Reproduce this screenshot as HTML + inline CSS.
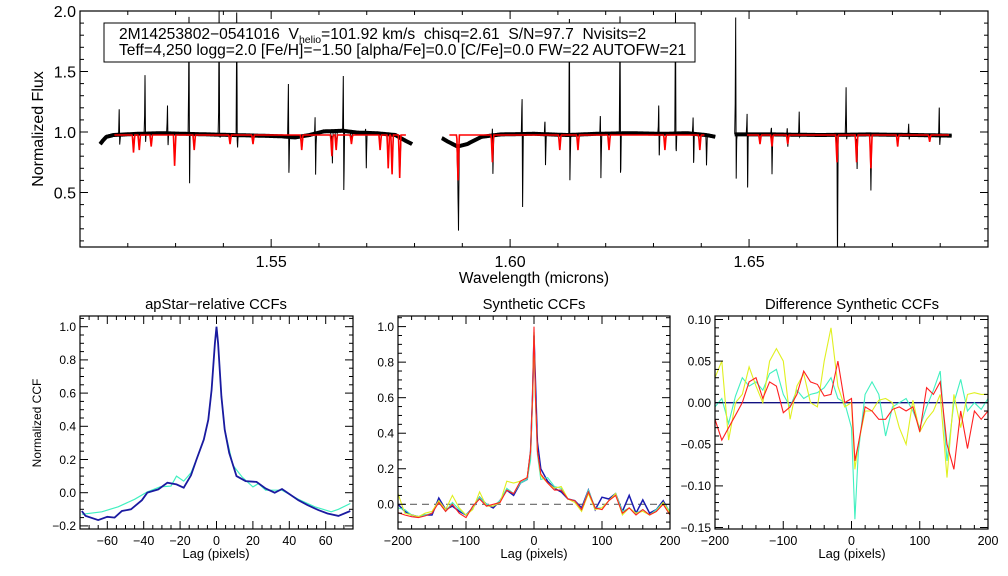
<!DOCTYPE html>
<html><head><meta charset="utf-8"><style>
body{margin:0;background:#fff}
svg{display:block;font-family:"Liberation Sans",sans-serif}
</style></head><body>
<svg id="c" width="1008" height="576" viewBox="0 0 1008 576">
<defs>
<clipPath id="cpTop"><rect x="80" y="11" width="908" height="236"/></clipPath>
<clipPath id="cpL"><rect x="80" y="316" width="273" height="213"/></clipPath>
<clipPath id="cpM"><rect x="398" y="316" width="272" height="213"/></clipPath>
<clipPath id="cpR"><rect x="715" y="316" width="273" height="213"/></clipPath>
</defs>
</svg>
<script>
// ---------- top spectrum data ----------
const chip1Base = [[1.5142,0.90],[1.5148,0.93],[1.5155,0.96],[1.517,0.975],[1.522,0.985],[1.527,0.99],[1.532,0.985],[1.537,0.98],[1.542,0.975],[1.547,0.97],[1.552,0.965],[1.555,0.955],[1.558,0.975],[1.561,1.005],[1.565,1.01],[1.568,0.995],[1.572,0.99],[1.576,0.975],[1.578,0.93],[1.5795,0.90]];
const chip2Base = [[1.5857,0.95],[1.587,0.92],[1.589,0.88],[1.591,0.90],[1.594,0.96],[1.598,0.98],[1.605,0.985],[1.612,0.975],[1.618,0.985],[1.625,0.99],[1.632,0.985],[1.637,0.99],[1.641,0.975],[1.643,0.96]];
const chip3Base = [[1.6470,0.98],[1.655,0.98],[1.665,0.975],[1.675,0.98],[1.685,0.975],[1.6925,0.97]];
const modelRanges = [[1.5172,1.5782],[1.5873,1.6407],[1.6496,1.6919]];
const modelContinuum = 0.975;
const modelLines = [[1.5212,0.83],[1.5224,0.85],[1.5249,0.88],[1.5298,0.72],[1.5339,0.85],[1.5414,0.90],[1.5462,0.90],[1.5564,0.85],[1.5627,0.80],[1.5636,0.85],[1.5668,0.90],[1.5728,0.85],[1.5745,0.70],[1.5753,0.65],[1.5769,0.62],
 [1.5891,0.60],[1.5963,0.75],[1.6104,0.85],[1.6142,0.85],[1.6207,0.85],[1.6324,0.85],[1.6397,0.85],
 [1.6523,0.90],[1.6548,0.88],[1.6581,0.90],[1.6684,0.75],[1.6725,0.75],[1.6755,0.70],[1.6811,0.88],[1.6878,0.92]];
const spikeWave = [1.5182,1.5236,1.5283,1.5328,1.5391,1.5428,1.5536,1.5592,1.5627,1.5651,1.5698,1.5891,1.5963,1.6025,1.6073,1.6124,1.6189,1.6230,1.6311,1.6346,1.6383,1.6410,1.6472,1.6496,1.6547,1.6580,1.6605,1.6684,1.6703,1.6725,1.6754,1.6834,1.6898];
const spikeUp =   [1.23,1.50,1.25,2.05,2.05,2.05,1.50,1.18,1.15,1.55,1.05,1.00,1.30,1.40,1.15,2.05,1.20,2.05,1.27,2.05,1.18,1.00,2.05,1.25,1.15,1.10,1.20,1.25,1.40,1.20,1.00,1.10,1.25];
const spikeDown = [0.88,0.90,0.88,0.50,0.85,0.78,0.62,0.63,0.80,0.42,0.70,0.50,0.75,0.33,0.72,0.45,0.60,0.50,0.78,0.70,0.73,0.75,0.50,0.52,0.73,0.95,0.95,0.05,0.95,0.80,0.78,0.95,0.88];

// ---------- CCF data ----------
const lagA1 = [-74,-72,-65,-60,-56,-52,-47,-41,-38,-32,-27,-22,-18,-14,-11,-7,-4.5,-2.7,-0.9,0,0.9,2.7,4.5,7,11,16,22,27,32,36,40,45,50,56,61,67,73.5];
const ccfApBlue = [-0.11,-0.14,-0.165,-0.145,-0.15,-0.11,-0.10,-0.045,0.0,0.02,0.06,0.05,0.03,0.105,0.20,0.32,0.44,0.62,0.90,1.0,0.90,0.58,0.38,0.24,0.10,0.07,0.065,0.025,0.0,0.022,-0.008,-0.045,-0.075,-0.105,-0.125,-0.14,-0.11];
const lagA2 = [-74,-63,-54,-45,-38,-31,-25,-22,-18,-14,-11,-7,-4.5,-2.7,-0.9,0,0.9,2.7,4.5,9,14,20,23,27,36,45,54,63,67,73.5];
const ccfApAqua = [-0.13,-0.115,-0.085,-0.04,0.005,0.035,0.04,0.10,0.07,0.12,0.20,0.32,0.44,0.62,0.90,1.0,0.90,0.58,0.38,0.165,0.095,0.035,0.055,0.015,0.015,-0.04,-0.085,-0.115,-0.10,-0.065];

const lagS = [-200,-190,-180,-170,-160,-150,-140,-130,-120,-110,-100,-90,-80,-70,-60,-50,-40,-30,-20,-10,-5,-2,0,2,5,10,20,30,40,50,60,70,80,90,100,110,120,130,140,150,160,170,180,190,200];
const synRed = [-0.047,-0.06,-0.07,-0.075,-0.065,-0.05,0.01,-0.04,0.0,-0.05,-0.075,-0.01,0.03,-0.01,0.0,0.01,0.08,0.06,0.13,0.15,0.3,0.62,1.0,0.62,0.3,0.17,0.12,0.08,0.08,0.03,0.02,-0.03,0.07,-0.02,-0.03,0.02,0.05,-0.05,-0.02,-0.06,-0.03,-0.06,-0.04,0.0,-0.06];
const synBlue = [0.0,-0.04,-0.06,-0.07,-0.06,-0.06,0.035,-0.03,-0.01,-0.04,-0.06,-0.02,0.04,0.0,-0.02,0.02,0.08,0.05,0.12,0.14,0.3,0.62,0.95,0.7,0.35,0.2,0.13,0.09,0.07,0.03,0.02,-0.02,0.08,-0.03,0.04,0.03,0.06,-0.04,0.05,-0.05,0.025,-0.05,-0.03,0.02,-0.05];
const synYellow = [0.06,-0.05,-0.06,-0.07,-0.05,-0.04,0.02,-0.03,0.05,-0.02,-0.06,-0.03,0.07,-0.01,-0.01,0.01,0.13,0.12,0.13,0.15,0.3,0.6,0.97,0.6,0.3,0.16,0.12,0.09,0.1,0.03,0.01,-0.04,0.06,-0.03,-0.02,0.02,0.06,-0.06,-0.02,-0.05,-0.04,-0.06,-0.04,0.01,-0.05];
const synAqua = [-0.02,-0.03,-0.06,-0.07,-0.06,-0.05,0.02,-0.04,0.01,-0.03,-0.06,-0.02,0.04,0.0,-0.01,0.02,0.09,0.06,0.12,0.14,0.25,0.6,0.97,0.6,0.28,0.14,0.15,0.1,0.09,0.03,0.02,-0.03,0.08,-0.02,-0.02,0.02,0.06,-0.04,-0.02,-0.05,-0.03,-0.06,-0.03,0.01,-0.04];

const lagD = [-200,-190,-180,-170,-160,-150,-140,-130,-120,-110,-100,-90,-80,-70,-60,-50,-40,-30,-20,-10,0,5,10,20,30,40,50,60,70,80,90,100,110,120,130,140,150,160,170,180,190,200];
const diffAqua = [-0.005,0.005,-0.025,0.008,0.03,0.02,0.025,0.015,0.035,0.04,0.01,-0.005,0.015,0.005,0.01,0.012,0.018,0.03,0.005,0.0,-0.03,-0.14,-0.06,0.01,0.025,0.01,-0.04,-0.005,0.0,0.005,-0.01,-0.03,-0.005,0.015,0.038,-0.07,0.0,0.028,-0.01,0.0,-0.008,0.005];
const diffYellow = [0.03,0.05,-0.045,0.0,0.01,0.043,0.02,0.0,0.05,0.065,0.05,-0.02,0.02,0.035,0.0,-0.005,0.05,0.09,0.02,-0.005,0.0,-0.08,-0.05,-0.01,-0.01,0.003,0.005,0.0,-0.03,-0.05,0.003,-0.035,-0.02,-0.01,0.01,-0.09,0.01,-0.03,0.01,0.012,0.01,0.01];
const diffRed = [-0.02,-0.045,-0.03,-0.015,0.0,0.025,0.03,0.005,0.025,0.02,-0.012,-0.005,0.01,0.038,0.025,0.022,0.008,0.01,0.05,0.0,0.005,-0.07,-0.05,-0.005,-0.01,-0.02,-0.02,-0.008,-0.005,-0.01,-0.005,-0.035,0.018,0.01,0.025,-0.05,-0.08,-0.01,-0.055,-0.01,-0.02,-0.01];

// ---------- helpers ----------
const svg = document.getElementById('c');
const NS = 'http://www.w3.org/2000/svg';
function mk(tag, attrs, parent){
  const e = document.createElementNS(NS, tag);
  for (const k in attrs) e.setAttribute(k, attrs[k]);
  (parent||svg).appendChild(e);
  return e;
}
function txt(x,y,s,size,anchor,rot){
  const t = mk('text',{x:x,y:y,'font-size':size,'text-anchor':anchor||'middle',fill:'#000'});
  if (rot) t.setAttribute('transform','rotate(-90 '+x+' '+y+')');
  t.textContent = s;
  return t;
}
function interp(arr, l){
  if (l <= arr[0][0]) return arr[0][1];
  for (let i=1;i<arr.length;i++){
    if (l <= arr[i][0]){ const a=arr[i-1], b=arr[i]; return a[1]+(b[1]-a[1])*(l-a[0])/(b[0]-a[0]); }
  }
  return arr[arr.length-1][1];
}
function frame(x0,y0,x1,y1,name){
  const r = mk('rect',{x:x0,y:y0,width:x1-x0,height:y1-y0,fill:'none',stroke:'#000','stroke-width':1.2});
  
  
}
function ticksX(sx,y0,y1,lo,hi,major,minor,fmt,fs,labOff,name,labelLo,labelHi){
  const g = mk('g',{});
  
  
  const n = Math.round((hi-lo)/minor);
  for (let i=0;i<=n;i++){
    const v = lo + i*minor; const x = sx(v);
    const isMaj = Math.abs(v/major - Math.round(v/major)) < 1e-6;
    const L = isMaj ? 8 : 4;
    mk('line',{x1:x,y1:y1,x2:x,y2:y1-L,stroke:'#000','stroke-width':1},g);
    mk('line',{x1:x,y1:y0,x2:x,y2:y0+L,stroke:'#000','stroke-width':1},g);
    if (isMaj && fmt && v>=labelLo-1e-9 && v<=labelHi+1e-9){ const t = txt(x,y1+labOff,fmt(v),fs); g.appendChild(t); }
  }
}
function ticksY(sy,x0,x1,lo,hi,major,minor,fmt,fs,name){
  const g = mk('g',{});
  
  
  const n = Math.round((hi-lo)/minor);
  for (let i=0;i<=n;i++){
    const v = lo + i*minor; const y = sy(v);
    const isMaj = Math.abs(v/major - Math.round(v/major)) < 1e-6;
    const L = isMaj ? 8 : 4;
    mk('line',{x1:x0,y1:y,x2:x0+L,y2:y,stroke:'#000','stroke-width':1},g);
    mk('line',{x1:x1,y1:y,x2:x1-L,y2:y,stroke:'#000','stroke-width':1},g);
    if (isMaj && fmt){ const t = txt(x0-4,y+fs*0.36,fmt(v),fs,'end'); g.appendChild(t); }
  }
}
function minus(s){ return s.replace('-','\u2212'); }
function line(xs,ys,sx,sy,color,w,clip,name){
  let d='';
  for (let i=0;i<xs.length;i++) d += (i?'L':'M')+sx(xs[i]).toFixed(1)+','+sy(ys[i]).toFixed(1);
  const p = mk('path',{d:d,fill:'none',stroke:color,'stroke-width':w,'clip-path':'url(#'+clip+')','stroke-linejoin':'miter'});
  
  
}

// ---------- top panel ----------
const tx = l => 80 + (l-1.51)*908/0.19;
const ty = v => 11 + (2.0-v)*121;
const pxW = 0.19/908;
function feat(l, list, hw){
  let s=0;
  for (const f of list){ const d=Math.abs(l-f[0])/(hw*pxW); if (d<1) s += (f[1]-f[2])*(1-d); }
  return s;
}
function buildChip(lo, hi, lines){
  const pts = [];
  for (let l=lo; l<=hi; l+=pxW*0.5) pts.push(l);
  for (const f of lines) if (f[0]>lo && f[0]<hi) pts.push(f[0]);
  pts.sort((a,b)=>a-b);
  return pts;
}
const blackFeats = [];
for (const m of modelLines) blackFeats.push([m[0], m[1], modelContinuum]);
const spikeFeats = [];
for (let i=0;i<spikeWave.length;i++){
  spikeFeats.push([spikeWave[i], spikeUp[i], 1.0]);
  spikeFeats.push([spikeWave[i]+0.5*pxW, spikeDown[i], 1.0]);
}
const chips = [chip1Base, chip2Base, chip3Base];
chips.forEach((base,ci)=>{
  const lo = base[0][0], hi = base[base.length-1][0];
  const pts = buildChip(lo, hi, blackFeats.concat(spikeFeats));
  const band = pts.map(l => interp(base,l));
  line(pts, band, tx, ty, '#000', 4, 'cpTop', 'observed-spectrum-band-chip-'+(ci+1));
  const ys = pts.map(l => interp(base,l) + 0.9*feat(l,blackFeats,1.2) + feat(l,spikeFeats,0.6));
  line(pts, ys, tx, ty, '#000', 1, 'cpTop', 'observed-spectrum-chip-'+(ci+1));
});
modelRanges.forEach((r,ci)=>{
  const pts = buildChip(r[0], r[1], blackFeats);
  const ys = pts.map(l => modelContinuum + feat(l,blackFeats,1.2));
  line(pts, ys, tx, ty, '#ff0000', 1.6, 'cpTop', 'model-spectrum-chip-'+(ci+1));
});
frame(80,11,988,247,'top-plot-frame');
ticksX(tx,11,247,1.51,1.70,0.05,0.01,v=>v.toFixed(2),16,20,'x-axis-ticks-wavelength',1.55,1.65);
ticksY(ty,80,988,0.1,2.0,0.5,0.1,v=>v.toFixed(1),16,'y-axis-ticks-flux');
(function(){const t=txt(534,283,'Wavelength (microns)',15.5);  })();
(function(){const t=txt(43,129,'Normalized Flux',16,'middle',true);  })();
// info box
(function(){
  const g = mk('g',{});
  
  
  mk('rect',{x:104,y:23,width:591,height:39,fill:'#fff',stroke:'#000','stroke-width':1},g);
  const t1 = mk('text',{x:119,y:39,'font-size':15.6,fill:'#000'},g);
  t1.innerHTML = '2M14253802\u22120541016  V<tspan font-size="10.5" dy="4">helio</tspan><tspan dy="-4">=101.92 km/s  chisq=2.61  S/N=97.7  Nvisits=2</tspan>';
  t1.style.whiteSpace='pre';
  const t2 = mk('text',{x:119,y:55,'font-size':15.6,fill:'#000'},g);
  t2.textContent = 'Teff=4,250 logg=2.0 [Fe/H]=\u22121.50 [alpha/Fe]=0.0 [C/Fe]=0.0 FW=22 AUTOFW=21';
})();

// ---------- bottom left ----------
const aX = v => 80 + (v+75)*273/150;
const aY = v => 326.7 + (1.0-v)*166;
line(lagA2, ccfApAqua, aX, aY, '#40f0c0', 1.2, 'cpL', 'aprel-ccf-aqua');
line(lagA1, ccfApBlue, aX, aY, '#1a1aa0', 1.8, 'cpL', 'aprel-ccf-blue');
frame(80,316,353,529,'aprel-frame');
ticksX(aX,316,529,-75,75,20,5,null,12,0,'aprel-x-ticks',0,0);
[-60,-40,-20,0,20,40,60].forEach(v=>txt(aX(v),545,minus(String(v)),12.5));
ticksY(aY,80,353,-0.2,1.05,0.2,0.05,v=>minus(v.toFixed(1)),12,'aprel-y-ticks');
txt(216,309,'apStar\u2212relative CCFs',14.8);
txt(216,558,'Lag (pixels)',13);
txt(41,423,'Normalized CCF',12,'middle',true);

// ---------- bottom middle ----------
const mX = v => 398 + (v+200)*272/400;
const mY = v => 504.3 - v*177.7;
mk('line',{x1:398,y1:mY(0),x2:670,y2:mY(0),stroke:'#666','stroke-width':1.2,'stroke-dasharray':'7,5'});
line(lagS, synBlue, mX, mY, '#1a1ab0', 1.5, 'cpM', 'syn-ccf-blue');
line(lagS, synAqua, mX, mY, '#40f0c0', 1.1, 'cpM', 'syn-ccf-aqua');
line(lagS, synYellow, mX, mY, '#e0f020', 1.1, 'cpM', 'syn-ccf-yellow');
line(lagS, synRed, mX, mY, '#ff2020', 1.1, 'cpM', 'syn-ccf-red');
frame(398,316,670,529,'syn-frame');
ticksX(mX,316,529,-200,200,100,20,null,12,0,'syn-x-ticks',0,0);
[-200,-100,0,100,200].forEach(v=>txt(mX(v),545,minus(String(v)),12.5));
ticksY(mY,398,670,-0.1,1.05,0.2,0.05,v=>minus(v.toFixed(1)),12,'syn-y-ticks');
txt(534,309,'Synthetic CCFs',14.8);
txt(534,558,'Lag (pixels)',13);

// ---------- bottom right ----------
const rX = v => 715 + (v+200)*273/400;
const rY = v => 402.7 - v*832;
mk('line',{x1:715,y1:rY(0),x2:988,y2:rY(0),stroke:'#101080','stroke-width':1.3});
line(lagD, diffAqua, rX, rY, '#40f0c0', 1.1, 'cpR', 'diff-ccf-aqua');
line(lagD, diffYellow, rX, rY, '#e0f020', 1.1, 'cpR', 'diff-ccf-yellow');
line(lagD, diffRed, rX, rY, '#ff2020', 1.1, 'cpR', 'diff-ccf-red');
frame(715,316,988,529,'diff-frame');
ticksX(rX,316,529,-200,200,100,20,null,12,0,'diff-x-ticks',0,0);
[-200,-100,0,100,200].forEach(v=>txt(rX(v),545,minus(String(v)),12.5));
ticksY(rY,715,988,-0.15,0.1,0.05,0.01,v=>minus(v.toFixed(2)),12,'diff-y-ticks');
txt(852,309,'Difference Synthetic CCFs',14.8);
txt(852,558,'Lag (pixels)',13);
</script>
</body></html>
